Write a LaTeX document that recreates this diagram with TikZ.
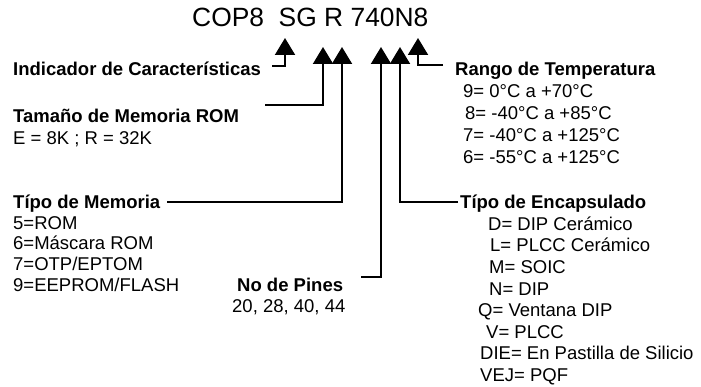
\documentclass[tikz,border=0pt]{standalone}
\usepackage{fontspec}
\setmainfont{Liberation Sans}
\usetikzlibrary{arrows.meta}

\begin{document}
\begin{tikzpicture}[
    x=1pt, y=-1pt,
    lead/.style={line width=2pt, -{Triangle[width=20pt,length=17pt]}},
    head/.style={anchor=base west, inner sep=0pt,
                 font=\fontsize{18.5}{22}\selectfont\bfseries},
    item/.style={anchor=base west, inner sep=0pt,
                 font=\fontsize{18.5}{22}\selectfont},
]
\useasboundingbox (0,0) rectangle (701,387);

% =========================================================
% PART NUMBER and the points the arrows go to
% =========================================================
\node[anchor=base west, inner sep=0pt, font=\fontsize{26.4}{30}\selectfont]
      (code) at (192,27) {COP8\ \ SG R 740N8};

\coordinate (tipSG) at (285,38);
\coordinate (tipR)  at (323,47);
\coordinate (tipM)  at (342,47);
\coordinate (tipP)  at (381,47);
\coordinate (tipE)  at (400,47);
\coordinate (tipT)  at (418,38);

% =========================================================
% LEFT COLUMN
% =========================================================
\node[head] (ind) at (13,76) {Indicador de Características};

\node[head] (rom)  at (13,123) {Tamaño de Memoria ROM};
\node[item] (romv) at (13,145) {E = 8K ; R = 32K};

\node[head] (mem) at (13,209) {Típo de Memoria};
\foreach \n/\txt [count=\i] in {m5/{5=ROM}, m6/{6=Máscara ROM},
                                m7/{7=OTP/EPTOM}, m9/{9=EEPROM/FLASH}}
  \node[item] (\n) at (13,{209+20.5*\i}) {\txt};

\node[head] (pin)  at (237,291) {No de Pines};
\node[item] (pinv) at (232,312) {20, 28, 40, 44};

% =========================================================
% RIGHT COLUMN
% =========================================================
\node[head] (temp) at (455,76) {Rango de Temperatura};
\foreach \n/\xx/\txt [count=\i] in {t9/463/{9= 0°C a +70°C},
                                    t8/465/{8= -40°C a +85°C},
                                    t7/463/{7= -40°C a +125°C},
                                    t6/463/{6= -55°C a +125°C}}
  \node[item] (\n) at (\xx,{76+21.8*\i}) {\txt};

\node[head] (enc) at (460,209) {Típo de Encapsulado};
\foreach \n/\xx/\txt [count=\i] in {eD/488/{D= DIP Cerámico},
                                    eL/490/{L= PLCC Cerámico},
                                    eM/489/{M= SOIC},
                                    eN/489/{N= DIP},
                                    eQ/478/{Q= Ventana DIP},
                                    eV/486/{V= PLCC},
                                    eDIE/480/{DIE= En Pastilla de Silicio},
                                    eVEJ/480/{VEJ= PQF}}
  \node[item] (\n) at (\xx,{209+21.5*\i}) {\txt};

% =========================================================
% CONNECTORS
% =========================================================
\coordinate (indFoot)  at (272,66);
\coordinate (romFoot)  at (265,105);
\coordinate (memFoot)  at (167,202);
\coordinate (pinFoot)  at (361,277);
\coordinate (encFoot)  at (458,202);
\coordinate (tempFoot) at (443,65);

\draw[lead] (indFoot)  -| (tipSG);
\draw[lead] (romFoot)  -| (tipR);
\draw[lead] (memFoot)  -| (tipM);
\draw[lead] (pinFoot)  -| (tipP);
\draw[lead] (encFoot)  -| (tipE);
\draw[lead] (tempFoot) -| (tipT);

\end{tikzpicture}
\end{document}
